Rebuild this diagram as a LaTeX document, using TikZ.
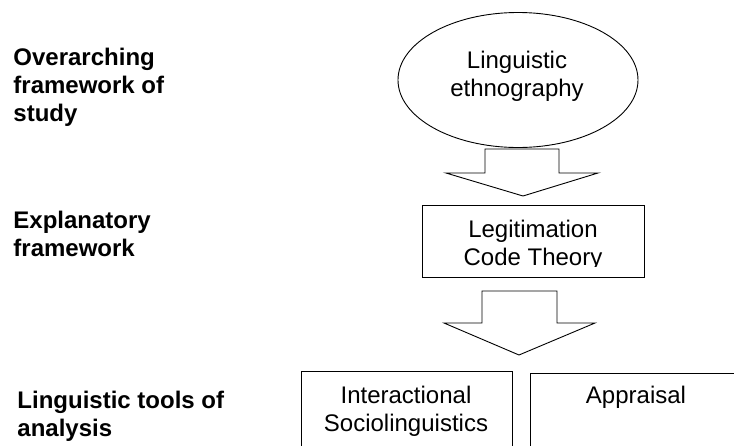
\documentclass[tikz,border=0pt]{standalone}
\usepackage{fontspec}
\setmainfont{Liberation Sans}
\usetikzlibrary{shapes.geometric}

% stacked lines, baseline at the first line
\newcommand\cstack[1]{\vtop{\halign{\hfil##\hfil\cr#1\crcr}}}
\newcommand\lstack[1]{\vtop{\halign{##\hfil\cr#1\crcr}}}

\begin{document}
\begin{tikzpicture}[x=1pt,y=-1pt,line width=0.9pt,
  txt/.style={inner sep=0pt,font=\fontsize{24}{28}\selectfont},
  lvl/.style={txt,font=\fontsize{24}{28}\selectfont\bfseries,anchor=base west},
  body/.style={txt,anchor=base},
  blockarrow/.style={draw,fill=white,line join=miter}]
\useasboundingbox (0,0) rectangle (734,445);

% level labels
\node[lvl] (lvlA) at (13,65) {\lstack{Overarching\cr framework of\cr study}};
\node[lvl] (lvlB) at (13,228) {\lstack{Explanatory\cr framework}};
\node[lvl] (lvlC) at (17,408) {\lstack{Linguistic tools of\cr analysis}};

% overarching framework
\node[draw,ellipse,minimum width=240pt,minimum height=135pt,inner sep=0pt]
  (eth) at (518,80) {};
\node[body] (ethtxt) at (517,68) {\cstack{Linguistic\cr ethnography}};

% block arrow down to the explanatory framework
\draw[blockarrow] (485,149) -- (559,149) -- (559,173) -- (598,173)
  -- (523,196) -- (446,173) -- (485,173) -- cycle;

% explanatory framework, text clipped by its box
\node[draw,minimum width=222pt,minimum height=72pt,inner sep=0pt]
  (lct) at (533,241) {};
\begin{scope}
  \clip (422,205) rectangle (644,266);
  \node[body] (lcttxt) at (533,237) {\cstack{Legitimation\cr Code Theory}};
\end{scope}

% block arrow down to the tools
\draw[blockarrow] (482,291) -- (557,291) -- (557,323) -- (595,323)
  -- (519,355) -- (444,323) -- (482,323) -- cycle;

% tools of analysis (boxes run past the lower edge)
\draw (301,460) -- (301,371) -- (512,371) -- (512,460);
\node[body] (istxt) at (406,403) {\cstack{Interactional\cr Sociolinguistics}};
\draw (530,460) -- (530,373) -- (750,373);
\node[body] (aptxt) at (636,403) {Appraisal};
\end{tikzpicture}
\end{document}
